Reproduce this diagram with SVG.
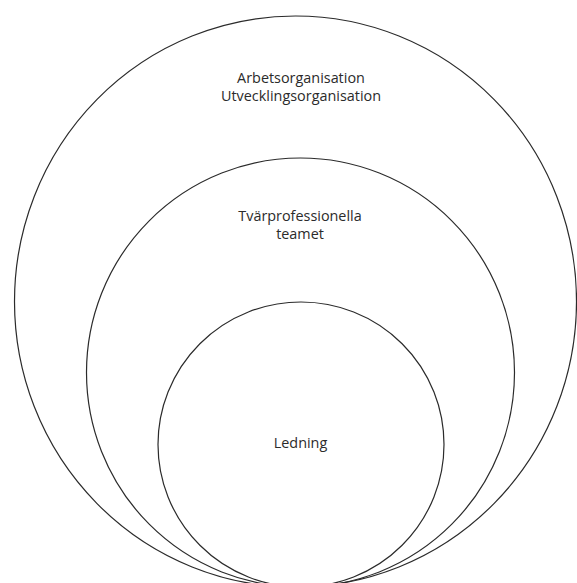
<svg xmlns="http://www.w3.org/2000/svg" width="577" height="583" viewBox="0 0 577 583">
<style>
.c{fill:none;stroke:#2b2b2b;stroke-width:1.2}
.t{font-family:"Open Sans","Liberation Sans",sans-serif;font-size:14.4px;fill:#2b2b2b;text-anchor:middle}
</style>
<rect width="577" height="583" fill="#fff"/>
<g id="outer">
<ellipse class="c" cx="295.5" cy="301.5" rx="281" ry="285.5"/>
<text class="t" y="83"><tspan x="301">Arbetsorganisation</tspan><tspan x="301" dy="18">Utvecklingsorganisation</tspan></text>
</g>
<g id="middle">
<ellipse class="c" cx="300.5" cy="372.5" rx="214" ry="214.5"/>
<text class="t" y="220.5"><tspan x="300">Tvärprofessionella</tspan><tspan x="300" dy="18">teamet</tspan></text>
</g>
<g id="inner">
<ellipse class="c" cx="301" cy="444.5" rx="143" ry="142.5"/>
<text class="t" x="300.5" y="448">Ledning</text>
</g>
<g id="connectors"></g>
</svg>
